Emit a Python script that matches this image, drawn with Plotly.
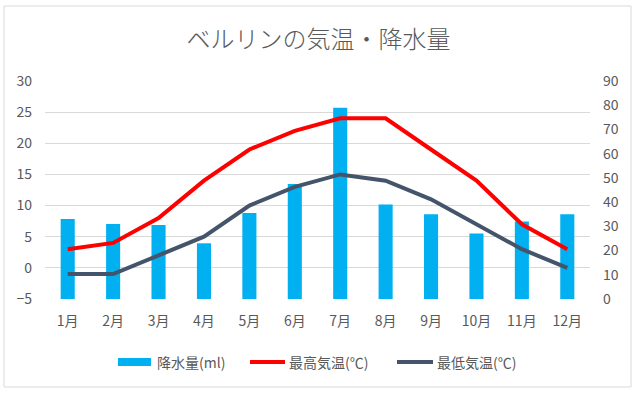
import plotly.graph_objects as go

months = ["1月", "2月", "3月", "4月", "5月", "6月", "7月", "8月", "9月", "10月", "11月", "12月"]
precip = [33, 31, 30.5, 23, 35.5, 47.5, 79, 39, 35, 27, 32, 35]
t_max = [3, 4, 8, 14, 19, 22, 24, 24, 19, 14, 7, 3]
t_min = [-1, -1, 2, 5, 10, 13, 15, 14, 11, 7, 3, 0]

series_names = ["降水量(ml)", "最高気温(℃)", "最低気温(℃)"]
series_colors = ["#00B0F0", "#FF0000", "#44546A"]

FONT = "Noto Sans CJK JP, Noto Sans, sans-serif"
GREY = "#595959"

fig = go.Figure()
fig.add_trace(go.Bar(x=months, y=precip, name=series_names[0], marker_color=series_colors[0],
                     marker_line_width=0, yaxis="y"))
fig.add_trace(go.Scatter(x=months, y=t_max, name=series_names[1], mode="lines",
                         line=dict(color=series_colors[1], width=4), yaxis="y2"))
fig.add_trace(go.Scatter(x=months, y=t_min, name=series_names[2], mode="lines",
                         line=dict(color=series_colors[2], width=4), yaxis="y2"))

L, R, T, B = 45, 47, 81, 95
W, H = 637, 394
pw, ph = W - L - R, H - T - B


def px(x):
    return (x - L) / pw


def py(y):
    return (H - B - y) / ph


shapes = [dict(type="rect", xref="paper", yref="paper",
               x0=px(4), x1=px(631), y0=py(387), y1=py(6),
               line=dict(color="#D9D9D9", width=1), fillcolor="rgba(0,0,0,0)",
               layer="below")]
annotations = []

# custom legend (swatch geometry in pixels)
leg_y = 362
swatches = [(118, 151, "rect"), (250, 285, "line"), (397, 433, "line")]
text_x = [155, 287, 435]
for (x0, x1, kind), tx, name, col in zip(swatches, text_x, series_names, series_colors):
    if kind == "rect":
        shapes.append(dict(type="rect", xref="paper", yref="paper",
                           x0=px(x0), x1=px(x1), y0=py(leg_y + 4), y1=py(leg_y - 4),
                           line=dict(width=0), fillcolor=col))
    else:
        shapes.append(dict(type="line", xref="paper", yref="paper",
                           x0=px(x0), x1=px(x1), y0=py(leg_y), y1=py(leg_y),
                           line=dict(color=col, width=4)))
    annotations.append(dict(text=name, xref="paper", yref="paper", x=px(tx), y=py(leg_y),
                            xanchor="left", yanchor="middle", showarrow=False,
                            font=dict(size=14, color=GREY, family=FONT)))

fig.update_layout(
    width=W, height=H,
    margin=dict(l=L, r=R, t=T, b=B),
    paper_bgcolor="white", plot_bgcolor="white",
    font=dict(family=FONT, size=13, color=GREY),
    title=dict(text="ベルリンの気温・降水量", x=0.5, xanchor="center",
               y=1 - 40 / H, yanchor="middle", yref="container",
               font=dict(size=24, color=GREY, family=FONT, weight=300)),
    bargap=0.69,
    xaxis=dict(showgrid=False, showline=False, ticks="", ticklabelstandoff=12,
               tickfont=dict(size=14, color=GREY)),
    yaxis=dict(range=[0, 90], dtick=10, side="right", showgrid=False, zeroline=False,
               showline=False, ticklabelstandoff=12, tickfont=dict(size=14, color=GREY)),
    yaxis2=dict(range=[-5, 30], dtick=5, side="left", overlaying="y", showgrid=True,
                gridcolor="#D9D9D9", gridwidth=1, zeroline=False, showline=False,
                ticklabelstandoff=12, tickfont=dict(size=14, color=GREY)),
    showlegend=False,
    shapes=shapes,
    annotations=annotations,
)

fig.write_html("out.html", config={"displayModeBar": False},
               post_script="document.body.style.margin='0';")
